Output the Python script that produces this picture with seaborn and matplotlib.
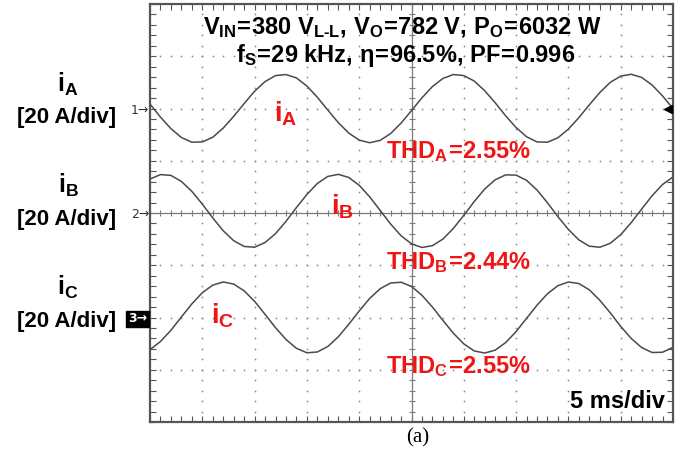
import numpy as np
import pandas as pd
import matplotlib
matplotlib.use("Agg")
import matplotlib.pyplot as plt
import matplotlib.transforms as mtransforms
import seaborn as sns

time_ms = list(range(0, 51))          # 1 ms samples, 5 ms/div, 10 div
scale_A_per_div = 20

i_a = [1.7, -3.3, -7.7, -11.1, -12.9, -12.8, -11.0, -7.5, -3.0, 1.9,
       6.6, 10.3, 12.6, 13.0, 11.7, 8.6, 4.3, -0.6, -5.4, -9.4,
       -12.1, -13.1, -12.2, -9.6, -5.6, -0.8, 4.1, 8.4, 11.5, 13.0,
       12.6, 10.5, 6.8, 2.2, -2.8, -7.3, -10.8, -12.8, -12.9, -11.2,
       -7.9, -3.5, 1.4, 6.1, 10.0, 12.4, 13.1, 11.9, 9.0, 4.8, 0.0]
i_b = [13.0, 14.7, 14.4, 12.1, 8.3, 3.4, -1.9, -6.8, -10.6, -12.8,
       -13.1, -11.3, -7.9, -3.2, 2.1, 7.1, 11.3, 14.0, 14.8, 13.6,
       10.6, 6.2, 1.0, -4.2, -8.7, -11.8, -13.2, -12.5, -10.0, -5.9,
       -0.9, 4.4, 9.2, 12.7, 14.6, 14.5, 12.5, 8.8, 3.9, -1.4,
       -6.3, -10.3, -12.7, -13.1, -11.6, -8.3, -3.7, 1.5, 6.6, 10.9, 13.8]
i_c = [-12.3, -9.2, -4.9, 0.2, 5.2, 9.5, 12.4, 13.6, 12.8, 10.2,
       6.2, 1.2, -3.9, -8.4, -11.8, -13.5, -13.2, -11.1, -7.4, -2.6,
       2.5, 7.3, 11.0, 13.2, 13.5, 11.9, 8.5, 4.0, -1.1, -6.0,
       -10.1, -12.8, -13.6, -12.5, -9.6, -5.4, -0.3, 4.7, 9.1, 12.2,
       13.6, 13.0, 10.6, 6.6, 1.8, -3.4, -8.0, -11.5, -13.4, -13.3, -11.4]

phases = ["A", "B", "C"]
thd_values = ["2.55", "2.44", "2.55"]
channel_offset_div = [2, 0, -2]

title_line1 = r"$\mathbf{V_{IN}\!=\!380\ V_{L‐L},\,V_{O}\!=\!782\ V,\,P_{O}\!=\!6032\ W}$"
title_line2 = r"$\mathbf{f_{S}\!=\!29\ kHz,\,η\!=\!96.5\%,\,PF\!=\!0.996}$"
timebase_label = "5 ms/div"
caption = "(a)"

# ---------------- style ----------------
sns.set_theme(style="white")
plt.rcParams["font.family"] = ["Liberation Sans", "DejaVu Sans"]
plt.rcParams["mathtext.fontset"] = "custom"
plt.rcParams["mathtext.rm"] = "Liberation Sans"
plt.rcParams["mathtext.bf"] = "Liberation Sans:bold"
plt.rcParams["mathtext.it"] = "Liberation Sans:italic"

W, H = 684, 463
RED = "#f01414"
TRACE = "#4a4a4a"
GRID = "#8a8a8a"
FRAME = "#555555"

fig = plt.figure(figsize=(W / 100, H / 100), dpi=100)
fig.patch.set_facecolor("white")
ax = fig.add_axes([150 / W, 41 / H, 523 / W, 418 / H])


def fx(px):
    return px / W


def fy(py):
    return 1 - py / H


# ---------------- traces ----------------
rows = []
for ph, cur, off in zip(phases, [i_a, i_b, i_c], channel_offset_div):
    for t, v in zip(time_ms, cur):
        rows.append({"t": t, "y": off + v / scale_A_per_div, "phase": ph})
df = pd.DataFrame(rows)

# ---------------- graticule ----------------
xs = np.arange(0, 50.001, 1.0)
ys = np.arange(-4, 4.001, 0.2)
for gx in [5, 10, 15, 20, 30, 35, 40, 45]:
    ax.scatter(np.full_like(ys, gx), ys, s=1.6, color=GRID, linewidths=0, zorder=1)
for gy in [-3, -2, -1, 1, 2, 3]:
    ax.scatter(xs, np.full_like(xs, gy), s=1.6, color=GRID, linewidths=0, zorder=1)
ax.axhline(0, color="#7a7a7a", lw=0.9, zorder=1)
ax.axvline(25, color="#7a7a7a", lw=0.9, zorder=1)
ax.plot(xs, np.zeros_like(xs), ls="", marker="|", ms=5, mew=0.8, color="#7a7a7a", zorder=1)
ax.plot(np.full_like(ys, 25), ys, ls="", marker="_", ms=5, mew=0.8, color="#7a7a7a", zorder=1)

sns.lineplot(data=df, x="t", y="y", hue="phase", palette=[TRACE] * 3,
             estimator=None, sort=False, legend=False, lw=1.1, ax=ax, zorder=3)

ax.set_xlim(0, 50)
ax.set_ylim(-4, 4)
ax.set_xticks(np.arange(0, 50.001, 1.0))
ax.set_yticks(np.arange(-4, 4.001, 0.2))
ax.tick_params(which="both", direction="in", length=4, width=0.8, color=FRAME,
               top=True, right=True, bottom=True, left=True,
               labelbottom=False, labelleft=False)
ax.set_xlabel("")
ax.set_ylabel("")
for sp in ax.spines.values():
    sp.set_color(FRAME)
    sp.set_linewidth(1.6)

# trigger marker on right edge (channel A level)
trans = mtransforms.blended_transform_factory(ax.transAxes, ax.transData)
ax.plot([0.99], [channel_offset_div[0]], marker="<", ms=6, color="black",
        transform=trans, clip_on=False, zorder=4)

# ---------------- texts ----------------
fig.text(fx(402), fy(34), title_line1, ha="center", va="baseline", fontsize=17, color="black")
fig.text(fx(406), fy(62), title_line2, ha="center", va="baseline", fontsize=17, color="black")

thd_baselines = [158, 269, 373]
for ph, val, by in zip(phases, thd_values, thd_baselines):
    fig.text(fx(386), fy(by), r"$\mathbf{THD_{%s}\!=\!%s\%%}$" % (ph, val),
             ha="left", va="baseline", fontsize=17, color=RED)

red_lbl = [(274, 122), (331, 215), (211, 324)]
for ph, (px, py) in zip(phases, red_lbl):
    fig.text(fx(px), fy(py), r"$\mathbf{i_{%s}}$" % ph, ha="left", va="baseline",
             fontsize=20, color=RED)

left_i_base = [92, 193, 295]
left_div_base = [123, 225, 327]
for ph, b1, b2 in zip(phases, left_i_base, left_div_base):
    fig.text(fx(68), fy(b1), r"$\mathbf{i_{%s}}$" % ph, ha="center", va="baseline",
             fontsize=18, color="black")
    fig.text(fx(67), fy(b2), "[20 A/div]", ha="center", va="baseline",
             fontsize=16, fontweight="bold", color="black")

marker_y = [110, 214, 319]
for k, py in enumerate(marker_y):
    if k < 2:
        fig.text(fx(149), fy(py), f"{k + 1}\u2192", ha="right", va="center",
                 fontsize=9, color="#333333", family=["DejaVu Sans"])
    else:
        fig.text(fx(147), fy(py), f"{k + 1}\u2192", ha="right", va="center",
                 fontsize=9, color="white", fontweight="bold", family=["DejaVu Sans"],
                 bbox=dict(boxstyle="square,pad=0.12", fc="black", ec="black"))

fig.text(fx(665), fy(408), timebase_label, ha="right", va="baseline", fontsize=17,
         fontweight="bold", color="black")
fig.text(fx(418), fy(438), caption, ha="center", va="center", fontsize=15,
         family=["Liberation Serif", "DejaVu Serif"], color="black")

fig.savefig("out.png", dpi=100, facecolor="white")
